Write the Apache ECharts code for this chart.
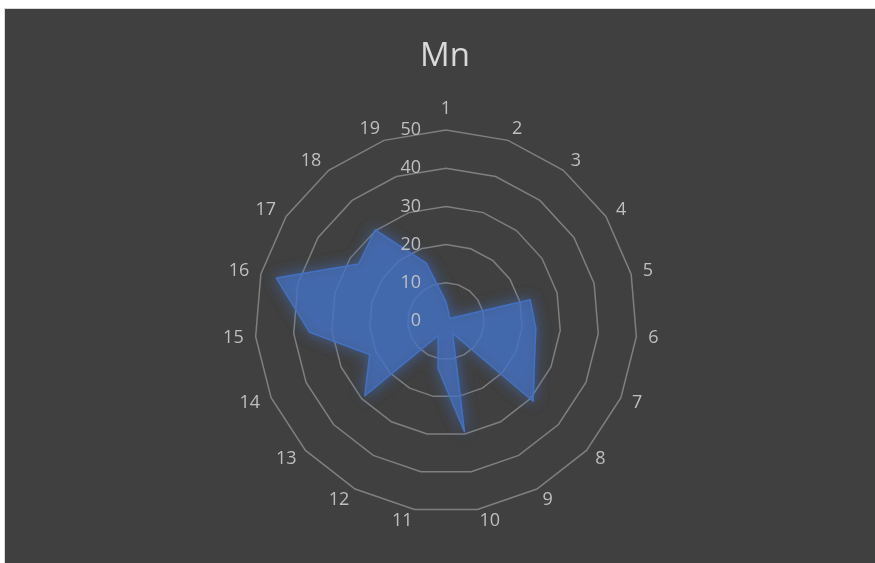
<!DOCTYPE html>
<html><head><meta charset="utf-8">
<script src="https://cdn.jsdelivr.net/npm/echarts@6/dist/echarts.min.js"></script>
<style>
html,body{margin:0;padding:0;background:#fff;overflow:hidden;width:875px;height:563px}
#frame{position:absolute;left:4px;top:8px;width:890px;height:570px;border:1px solid #d9d9d9;background:#404040}
#chart{width:880px;height:560px}
</style></head><body>
<div id="frame"><div id="chart"></div></div>
<script>
const chartTitle = 'Mn';
const categories = ['1','2','3','4','5','6','7','8','9','10','11','12','13','14','15','16','17','18','19'];
const values = [5, 2.2, 1.4, 1.2, 22.7, 23.6, 25.3, 31, 3.6, 29.4, 12.6, 4.3, 28.9, 21.8, 35.8, 45.8, 27.3, 30.2, 16];
const axisMin = 0;
const axisMax = 50;
const splitCount = 5;

// ECharts lays indicators counter-clockwise; reverse (keeping the first on top) to read clockwise.
const order = [0].concat(categories.map((_, i) => i).slice(1).reverse());
const makeIndicators = (withLabel) => order.map((i, k) => ({
  name: categories[i], min: axisMin, max: axisMax,
  axisLabel: { show: withLabel && k === 0 }
}));
const seriesValues = order.map(i => values[i]);

const labelFont = { color: '#bfbfbf', fontSize: 18, fontFamily: 'Open Sans' };
const common = { center: [441, 312], radius: 191, startAngle: 90, splitNumber: splitCount, shape: 'polygon' };

const chart = echarts.init(document.getElementById('chart'), null, { renderer: 'canvas' });
chart.setOption({
  backgroundColor: '#404040',
  animation: false,
  title: {
    text: chartTitle, left: 'center', top: 26,
    textStyle: { color: '#d9d9d9', fontSize: 33, fontWeight: 'normal', fontFamily: 'Open Sans' }
  },
  radar: [
    Object.assign({}, common, {
      z: 0,
      indicator: makeIndicators(false),
      nameGap: 12,
      axisName: labelFont,
      axisLine: { show: false },
      axisTick: { show: false },
      axisLabel: { show: false },
      splitLine: { lineStyle: { color: '#7f7f7f', width: 1.5 } },
      splitArea: { show: false }
    }),
    Object.assign({}, common, {
      z: 10,
      indicator: makeIndicators(true),
      axisName: { show: false },
      axisLine: { show: false },
      axisTick: { show: false },
      axisLabel: Object.assign({ show: true, margin: 25 }, labelFont),
      splitLine: { show: false },
      splitArea: { show: false }
    })
  ],
  series: [{
    type: 'radar',
    radarIndex: 0,
    symbol: 'none',
    z: 2,
    data: [{
      value: seriesValues,
      lineStyle: { color: '#4472c4', width: 1.5, shadowBlur: 14, shadowColor: 'rgba(68,114,196,0.95)' },
      areaStyle: { color: 'rgba(68,114,196,0.85)', shadowBlur: 14, shadowColor: 'rgba(68,114,196,0.95)' }
    }]
  }]
});
</script>
</body></html>
